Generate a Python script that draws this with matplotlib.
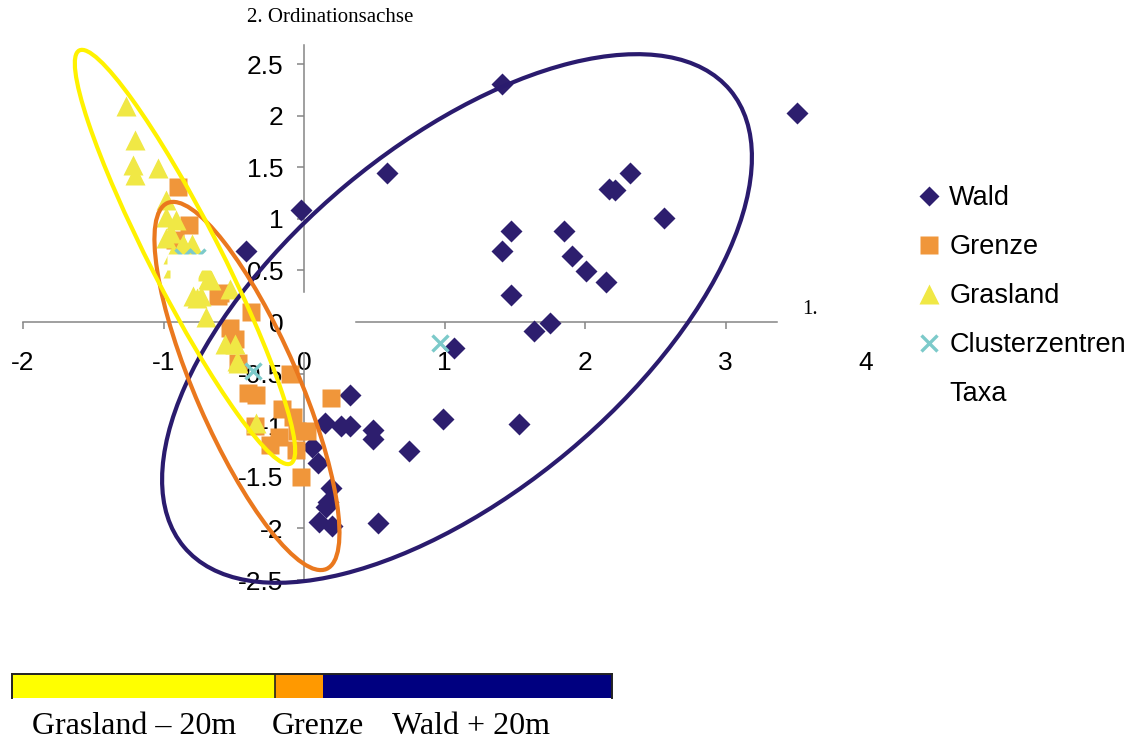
import matplotlib
matplotlib.use("Agg")
import matplotlib.pyplot as plt
from matplotlib.patches import Ellipse
from matplotlib.lines import Line2D
from matplotlib.transforms import ScaledTranslation
import numpy as np

plt.rcParams["axes.unicode_minus"] = False

# --- ordination scores -------------------------------------------------------
wald_x = [1.41, 3.51, 0.59, -0.02, 2.32, 2.17, 2.21, 2.56, 1.47, 1.85, 1.41, 1.91,
          2.01, 2.15, 1.47, 1.75, 1.64, 1.07, 0.99, 1.53, 0.33, 0.75, 0.49, 0.49,
          0.15, 0.26, 0.33, -0.41, 0.06, 0.10, 0.19, 0.17, 0.16, 0.11, 0.20, 0.53]
wald_y = [2.31, 2.03, 1.44, 1.09, 1.44, 1.29, 1.28, 1.01, 0.88, 0.88, 0.69, 0.64,
          0.49, 0.39, 0.26, -0.01, -0.09, -0.25, -0.94, -0.99, -0.71, -1.25, -1.05, -1.13,
          -0.98, -1.01, -1.01, 0.69, -1.21, -1.37, -1.61, -1.74, -1.79, -1.94, -1.98, -1.95]

grenze_x = [-0.90, -0.82, -0.92, -0.61, -0.38, -0.53, -0.49, -0.47, -0.40, -0.34, -0.35,
            -0.16, -0.18, -0.08, -0.05, 0.02, -0.06, -0.02, 0.19, -0.10, -0.24, -0.60]
grenze_y = [1.31, 0.94, 0.79, 0.25, 0.10, -0.06, -0.16, -0.40, -0.69, -0.71, -1.01,
            -0.84, -1.11, -0.92, -1.06, -1.06, -1.24, -1.50, -0.74, -0.50, -1.19, 0.28]

gras_x = [-1.27, -1.20, -1.22, -1.20, -1.04, -0.98, -0.98, -0.91, -0.95, -0.98, -0.86,
          -0.80, -0.88, -0.93, -0.81, -0.93, -0.70, -0.68, -0.66, -0.53, -0.79, -0.73,
          -0.76, -0.70, -0.56, -0.49, -0.47, -0.48, -0.34]
gras_y = [2.09, 1.76, 1.52, 1.42, 1.49, 1.18, 1.02, 0.99, 0.86, 0.81, 0.76,
          0.76, 0.71, 0.66, 0.66, 0.52, 0.49, 0.42, 0.41, 0.32, 0.25, 0.25,
          0.23, 0.05, -0.21, -0.21, -0.40, -0.38, -0.98]

zentren_x = [0.97, -0.86, -0.76, -0.36]
zentren_y = [-0.20, 0.63, 0.63, -0.47]

taxa_x = [-0.92, -0.81, -0.71, -0.90, -0.81]
taxa_y = [0.58, 0.58, 0.58, 0.45, 0.45]

x_ticks = [-2, -1, 0, 1, 2, 3, 4]
x_ticklabels = ["-2", "-1", "0", "1", "2", "3", "4"]
y_ticks = [-2.5, -2, -1.5, -1, -0.5, 0, 0.5, 1, 1.5, 2, 2.5]
y_ticklabels = ["-2.5", "-2", "-1.5", "-1", "-0.5", "0", "0.5", "1", "1.5", "2", "2.5"]

legend_labels = ["Wald", "Grenze", "Grasland", "Clusterzentren", "Taxa"]

# transect bar: share of plots per zone (percent)
zone_labels = ["Grasland – 20m", "Grenze", "Wald + 20m"]
zone_share = [43.8, 8.0, 48.2]

# --- styling -----------------------------------------------------------------
C_WALD = "#2D1E6E"
C_GRENZE = "#F0963A"
C_GRAS = "#F0E845"
C_ZENTR = "#7CCACA"
C_AXIS = "#858585"
C_RING_Y = "#FFF200"
C_RING_O = "#EA781E"
C_RING_N = "#2A1B6E"
SANS = "Liberation Sans"
SERIF = "Liberation Serif"

W, H = 1144, 740
fig = plt.figure(figsize=(W / 100, H / 100), dpi=100)

# plot area laid out so that one unit = 140.5 px (x) and 103.2 px (y)
sx, sy = 140.5, 103.2
ox, oy = 304, 322
xlim = (-2.1, 4.2)
ylim = (-2.9, 2.95)
l_px = ox + xlim[0] * sx
r_px = ox + xlim[1] * sx
t_px = oy - ylim[1] * sy
b_px = oy - ylim[0] * sy
ax = fig.add_axes([l_px / W, 1 - b_px / H, (r_px - l_px) / W, (b_px - t_px) / H])
ax.set_xlim(*xlim)
ax.set_ylim(*ylim)
ax.patch.set_visible(False)

# axes crossing at the origin, with the crossing itself left open
for s in ("top", "right"):
    ax.spines[s].set_visible(False)
ax.spines["left"].set_position(("data", 0))
ax.spines["bottom"].set_position(("data", 0))
ax.spines["left"].set_bounds(0.29, 2.68)
ax.spines["bottom"].set_bounds(-2.0, -0.55)
for s in ("left", "bottom"):
    ax.spines[s].set_color(C_AXIS)
    ax.spines[s].set_linewidth(1.1)
ax.plot([0, 0], [-2.5, -0.30], color=C_AXIS, lw=1.1, zorder=2.5, clip_on=False)
ax.plot([0.37, 3.37], [0, 0], color=C_AXIS, lw=1.1, zorder=2.5, clip_on=False)

ax.set_xticks(x_ticks)
ax.set_xticklabels(x_ticklabels, fontfamily=SANS, fontsize=19)
ax.set_yticks(y_ticks)
ax.set_yticklabels(y_ticklabels, fontfamily=SANS, fontsize=19)
ax.tick_params(axis="x", direction="out", length=5, width=1.1, color=C_AXIS, pad=16)
ax.tick_params(axis="y", direction="out", length=5, width=1.1, color=C_AXIS, pad=10)
for i, t in enumerate(ax.xaxis.get_major_ticks()):
    if x_ticks[i] in (0, 4):
        t.tick1line.set_visible(False)
for i, t in enumerate(ax.yaxis.get_major_ticks()):
    if y_ticks[i] == 0:
        t.tick1line.set_visible(False)

# point series
ax.plot(wald_x, wald_y, ls="", marker="D", ms=11, color=C_WALD, mec="none", zorder=3, clip_on=False)
ax.plot(grenze_x, grenze_y, ls="", marker="s", ms=13, color=C_GRENZE, mec="none", zorder=3.1, clip_on=False)
ax.plot(gras_x, gras_y, ls="", marker="^", ms=14.5, color=C_GRAS, mec="none", zorder=3.2, clip_on=False)
ax.plot(zentren_x, zentren_y, ls="", marker="x", ms=12, mew=2.4, color=C_ZENTR, zorder=3.3, clip_on=False)
ax.plot(taxa_x, taxa_y, ls="", marker="s", ms=11, color="white", mec="none", zorder=3.4, clip_on=False)


# group outlines, sized in screen pixels around a centre in data units
def ring(cx, cy, w_px, h_px, angle, color):
    tr = fig.dpi_scale_trans + ScaledTranslation(cx, cy, ax.transData)
    e = Ellipse((0, 0), w_px / fig.dpi, h_px / fig.dpi, angle=angle, transform=tr,
                fill=False, ec=color, lw=3, zorder=5, clip_on=False)
    ax.add_artist(e)


ring(1.089, 0.034, 712, 347, 39.9, C_RING_N)
ring(-0.406, -0.620, 399, 103, 113.5, C_RING_O)
ring(-0.847, 0.630, 464, 70, 117.1, C_RING_Y)

# legend
handles = [
    Line2D([], [], ls="", marker="D", ms=10, color=C_WALD, mec="none"),
    Line2D([], [], ls="", marker="s", ms=13, color=C_GRENZE, mec="none"),
    Line2D([], [], ls="", marker="^", ms=14, color=C_GRAS, mec="none"),
    Line2D([], [], ls="", marker="x", ms=12, mew=2.4, color=C_ZENTR),
    Line2D([], [], ls="", marker="s", ms=11, color="white", mec="none"),
]
fig.legend(handles, legend_labels, loc="upper left", bbox_to_anchor=(918 / W, 1 - 185 / H),
           frameon=False, prop={"family": SANS, "size": 19.5}, handlelength=0.8,
           handletextpad=0.35, labelspacing=0.85, borderpad=0, borderaxespad=0)

# axis captions
fig.text(247 / W, 1 - 18 / H, "2. Ordinationsachse", family=SERIF, size=15, va="center", ha="left")
fig.text(802 / W, 1 - 310 / H, "1.", family=SERIF, size=15, va="center", ha="left")

# zone bar below the chart
bax = fig.add_axes([12 / W, 1 - 698 / H, 600 / W, 24 / H])
zone_colors = ["#FFFF00", "#FF9900", "#000080"]
left = 0
for share, col in zip(zone_share, zone_colors):
    bax.barh(0, share, left=left, height=1, color=col, edgecolor="none")
    left += share
bax.axvline(zone_share[0], color="#222222", lw=1.2)
bax.set_xlim(0, sum(zone_share))
bax.set_ylim(-0.5, 0.5)
bax.set_xticks([])
bax.set_yticks([])
for s in ("top", "left", "right"):
    bax.spines[s].set_color("#222222")
    bax.spines[s].set_linewidth(1.4)
bax.spines["bottom"].set_visible(False)

label_x = [32, 272, 392]
for lx, txt in zip(label_x, zone_labels):
    fig.text(lx / W, 1 - 734 / H, txt, family=SERIF, size=23, va="baseline", ha="left")

fig.savefig("out.png", dpi=100)
